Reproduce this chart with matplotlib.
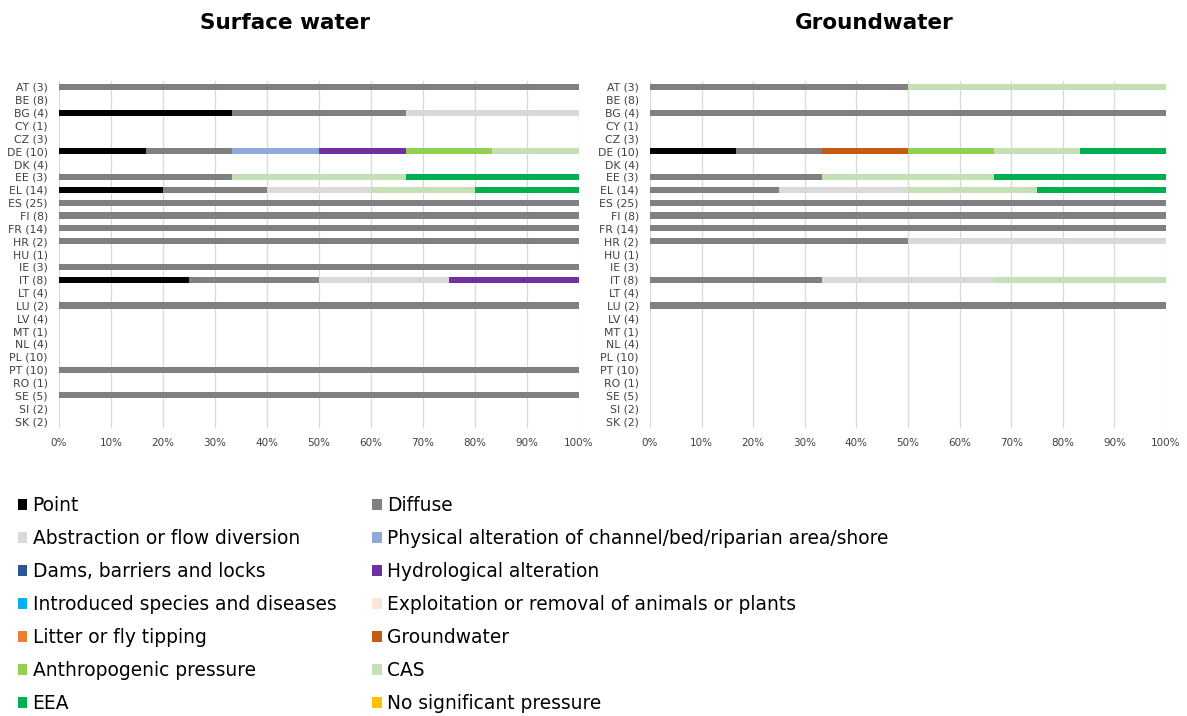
import matplotlib.pyplot as plt
from matplotlib.ticker import PercentFormatter

countries = ["AT (3)", "BE (8)", "BG (4)", "CY (1)", "CZ (3)", "DE (10)", "DK (4)",
             "EE (3)", "EL (14)", "ES (25)", "FI (8)", "FR (14)", "HR (2)", "HU (1)",
             "IE (3)", "IT (8)", "LT (4)", "LU (2)", "LV (4)", "MT (1)", "NL (4)",
             "PL (10)", "PT (10)", "RO (1)", "SE (5)", "SI (2)", "SK (2)"]

pressures = ["Point", "Diffuse", "Abstraction or flow diversion",
             "Physical alteration of channel/bed/riparian area/shore",
             "Dams, barriers and locks", "Hydrological alteration",
             "Introduced species and diseases",
             "Exploitation or removal of animals or plants",
             "Litter or fly tipping", "Groundwater", "Anthropogenic pressure",
             "CAS", "EEA", "No significant pressure"]

colors = ["#000000", "#808080", "#d9d9d9", "#8eaadb", "#2f5597", "#7030a0",
          "#00b0f0", "#fbe5d6", "#ed7d31", "#c55a11", "#92d050", "#c5e0b4",
          "#00b050", "#ffc000"]

# share (%) per country, only non-empty rows listed
surface_water = {
    "AT (3)": {"Diffuse": 100},
    "BG (4)": {"Point": 33.33, "Diffuse": 33.33, "Abstraction or flow diversion": 33.34},
    "DE (10)": {"Point": 16.67, "Diffuse": 16.67,
                "Physical alteration of channel/bed/riparian area/shore": 16.67,
                "Hydrological alteration": 16.67, "Anthropogenic pressure": 16.66,
                "CAS": 16.66},
    "EE (3)": {"Diffuse": 33.33, "CAS": 33.33, "EEA": 33.34},
    "EL (14)": {"Point": 20, "Diffuse": 20, "Abstraction or flow diversion": 20,
                "CAS": 20, "EEA": 20},
    "ES (25)": {"Diffuse": 100},
    "FI (8)": {"Diffuse": 100},
    "FR (14)": {"Diffuse": 100},
    "HR (2)": {"Diffuse": 100},
    "IE (3)": {"Diffuse": 100},
    "IT (8)": {"Point": 25, "Diffuse": 25, "Abstraction or flow diversion": 25,
               "Hydrological alteration": 25},
    "LU (2)": {"Diffuse": 100},
    "PT (10)": {"Diffuse": 100},
    "SE (5)": {"Diffuse": 100},
}

groundwater = {
    "AT (3)": {"Diffuse": 50, "CAS": 50},
    "BG (4)": {"Diffuse": 100},
    "DE (10)": {"Point": 16.67, "Diffuse": 16.67, "Groundwater": 16.67,
                "Anthropogenic pressure": 16.67, "CAS": 16.66, "EEA": 16.66},
    "EE (3)": {"Diffuse": 33.33, "CAS": 33.33, "EEA": 33.34},
    "EL (14)": {"Diffuse": 25, "Abstraction or flow diversion": 25, "CAS": 25, "EEA": 25},
    "ES (25)": {"Diffuse": 100},
    "FI (8)": {"Diffuse": 100},
    "FR (14)": {"Diffuse": 100},
    "HR (2)": {"Diffuse": 50, "Abstraction or flow diversion": 50},
    "IT (8)": {"Diffuse": 33.33, "Abstraction or flow diversion": 33.33, "CAS": 33.34},
    "LU (2)": {"Diffuse": 100},
}


def DrawStacked(ax, data):
	y = list(range(len(countries)))
	left = [0] * len(countries)
	handles = []
	for p, c in zip(pressures, colors):
		vals = [data.get(k, {}).get(p, 0) for k in countries]
		h = ax.barh(y, vals, left=left, height=0.48, color=c, label=p)
		handles.append(h)
		left = [a + b for a, b in zip(left, vals)]
	ax.set_yticks(y)
	ax.set_yticklabels(countries, fontsize=7.8, color="#404040")
	ax.set_ylim(26.55, -0.45)
	ax.set_xlim(0, 100)
	ax.set_xticks(range(0, 101, 10))
	ax.xaxis.set_major_formatter(PercentFormatter(decimals=0))
	ax.tick_params(axis="x", labelsize=7.5, colors="#404040", length=0, pad=7)
	ax.tick_params(axis="y", length=0, pad=8)
	ax.grid(axis="x", color="#d9d9d9", linewidth=0.9)
	ax.set_axisbelow(True)
	for s in ax.spines.values():
		s.set_visible(False)
	return handles


fig = plt.figure(figsize=(11.87, 7.16), dpi=100)
ax1 = fig.add_axes([0.0497, 0.402, 0.438, 0.4846])
ax2 = fig.add_axes([0.5476, 0.402, 0.4347, 0.4846])
handles = DrawStacked(ax1, surface_water)
DrawStacked(ax2, groundwater)

fig.text(285 / 1187, 1 - 23 / 716, "Surface water", ha="center", va="center",
         fontsize=15.5, fontweight="bold")
fig.text(874 / 1187, 1 - 23 / 716, "Groundwater", ha="center", va="center",
         fontsize=15.5, fontweight="bold")

# legend is filled column by column, so put odd items first
order = list(range(0, 14, 2)) + list(range(1, 14, 2))
fig.legend([handles[i] for i in order], [pressures[i] for i in order],
           ncol=2, loc="upper left", bbox_to_anchor=(18 / 1187, 1 - 496 / 716),
           frameon=False, fontsize=13.4, handlelength=0.5, handleheight=0.55,
           handletextpad=0.28, columnspacing=1.95, labelspacing=0.75,
           borderpad=0, borderaxespad=0)

plt.savefig("out.png", dpi=100)
